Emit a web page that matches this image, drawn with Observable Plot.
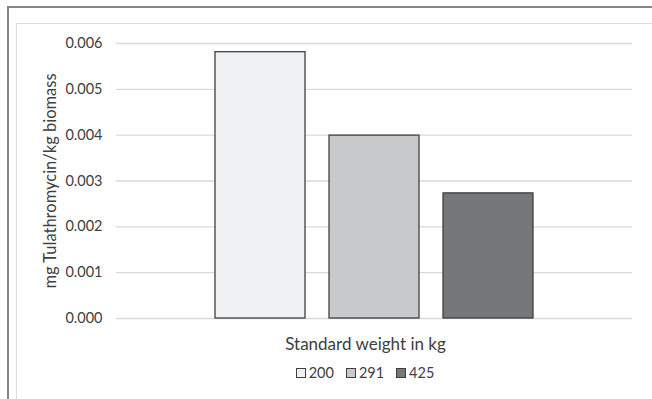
<!DOCTYPE html>
<html>
<head>
<meta charset="utf-8">
<script src="https://cdn.jsdelivr.net/npm/d3@7"></script>
<script src="https://cdn.jsdelivr.net/npm/@observablehq/plot@0.6"></script>
<style>
  html, body { margin: 0; padding: 0; background: #fff; }
  #wrap { position: relative; width: 652px; height: 399px; overflow: hidden; font-family: Lato, "Open Sans", sans-serif; color: #404040; }
  #outer { position: absolute; left: 7px; top: 6px; right: -10px; bottom: -10px; border-left: 2px solid #858585; border-top: 2px solid #858585; }
  #inner { position: absolute; left: 16px; top: 23px; width: 635px; bottom: -10px; border-left: 1px solid #dcdcdc; border-top: 1px solid #dcdcdc; border-right: 1px solid #dcdcdc; }
  #chart { position: absolute; left: 0; top: 0; }
  #legend { position: absolute; left: 0; width: 730px; top: 364px; display: flex; justify-content: center; gap: 12px; font-size: 14.5px; }
  .item { display: flex; align-items: center; gap: 3px; }
  .sw { width: 8px; height: 8px; border: 1px solid #404040; }
</style>
</head>
<body>
<div id="wrap">
  <div id="outer"></div>
  <div id="inner"></div>
  <div id="chart"></div>
  <div id="legend"></div>
</div>
<script>
// Standard weight classes (kg) and the dose per kg of biomass
const weights = ["200", "291", "425"];
const dose = [0.00581, 0.00399, 0.00273];
const fills = ["#f0f1f2", "#c8c9cb", "#76777a"];
const yTicks = [0, 0.001, 0.002, 0.003, 0.004, 0.005, 0.006];
const yTitle = "mg Tulathromycin/kg biomass";
const xTitle = "Standard weight in kg";

const rows = weights.map((w, i) => ({weight: w, dose: dose[i]}));

const chart = Plot.plot({
  width: 652,
  height: 399,
  marginLeft: 116,
  marginRight: 20,
  marginTop: 43,
  marginBottom: 81,
  style: {fontFamily: "Lato, 'Open Sans', sans-serif", fontSize: "14.5px", color: "#404040", background: "transparent"},
  x: {domain: weights, range: [214.5, 534], paddingInner: 0.21, paddingOuter: 0, axis: null},
  y: {domain: [0, 0.006], ticks: yTicks, tickFormat: d3.format(".3f"), tickSize: 0, tickPadding: 14, label: null},
  color: {domain: weights, range: fills},
  marks: [
    Plot.ruleY(yTicks, {stroke: "#d9d9d9", strokeWidth: 1.3}),
    Plot.barY(rows, {x: "weight", y: "dose", fill: "weight", stroke: "#404040", strokeWidth: 1.3}),
    Plot.text([yTitle], {frameAnchor: "left", textAnchor: "middle", dx: -66, rotate: -90, fill: "#404040", fontSize: 16.5}),
    Plot.text([xTitle], {frameAnchor: "bottom", textAnchor: "middle", dx: -9, dy: 31, fill: "#404040", fontSize: 17})
  ]
});
document.getElementById("chart").appendChild(chart);

// Legend built from the same categories and fills
const legend = document.getElementById("legend");
weights.forEach((w, i) => {
  const item = document.createElement("div");
  item.className = "item";
  const sw = document.createElement("div");
  sw.className = "sw";
  sw.style.background = fills[i];
  const label = document.createElement("span");
  label.textContent = w;
  item.appendChild(sw);
  item.appendChild(label);
  legend.appendChild(item);
});
</script>
</body>
</html>
